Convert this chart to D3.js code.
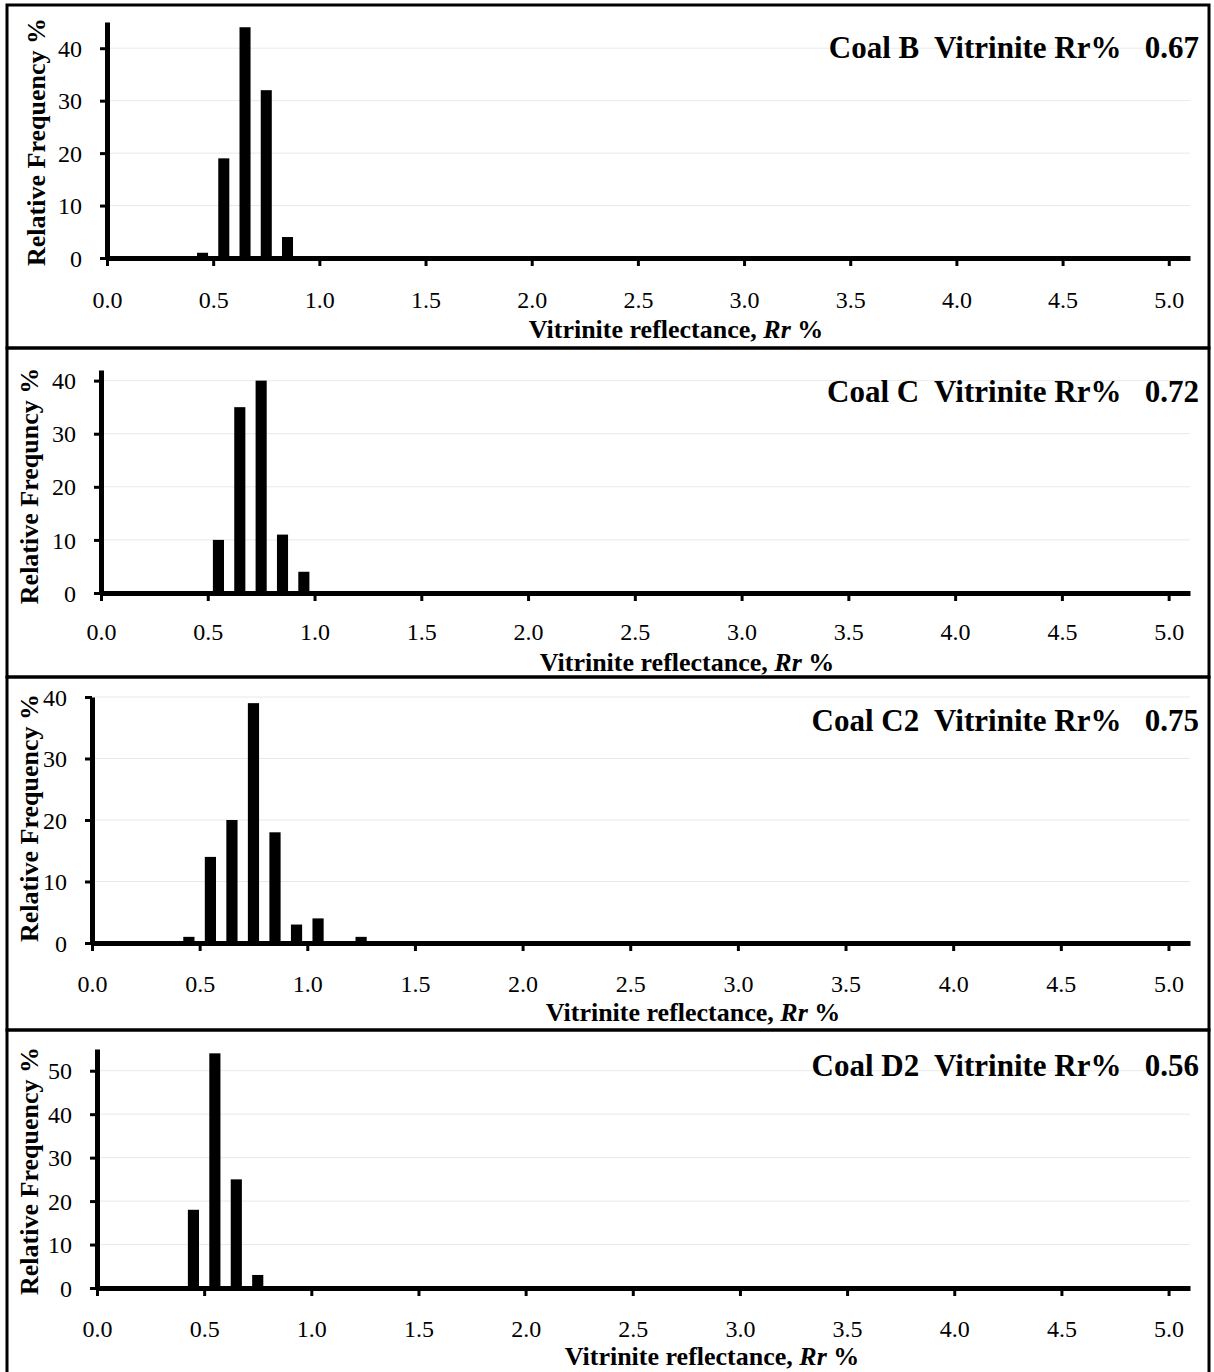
<!DOCTYPE html>
<html>
<head>
<meta charset="utf-8">
<script src="https://cdn.jsdelivr.net/npm/d3@7"></script>
<style>
  html, body { margin: 0; padding: 0; background: #fff; }
  svg { display: block; }
  text { font-family: "Liberation Serif", "Times New Roman", serif; fill: #000; }
</style>
</head>
<body>
<svg id="chart" width="1214" height="1372"></svg>
<script>
// Reflectance histograms of vitrinite for four coals (bin midpoints, Rr %)
const coalNames = ["Coal B", "Coal C", "Coal C2", "Coal D2"];
const meanRr = ["0.67", "0.72", "0.75", "0.56"];

const binsB  = [0.45, 0.55, 0.65, 0.75, 0.85];
const freqB  = [1, 19, 44, 32, 4];

const binsC  = [0.55, 0.65, 0.75, 0.85, 0.95];
const freqC  = [10, 35, 40, 11, 4];

const binsC2 = [0.45, 0.55, 0.65, 0.75, 0.85, 0.95, 1.05, 1.25];
const freqC2 = [1, 14, 20, 39, 18, 3, 4, 1];

const binsD2 = [0.45, 0.55, 0.65, 0.75];
const freqD2 = [18, 54, 25, 3];

const yMaxes = [45, 42, 40, 55];
const yTicksB  = [0, 10, 20, 30, 40];
const yTicksC  = [0, 10, 20, 30, 40];
const yTicksC2 = [0, 10, 20, 30, 40];
const yTicksD2 = [0, 10, 20, 30, 40, 50];
const xTicks = [0, 0.5, 1.0, 1.5, 2.0, 2.5, 3.0, 3.5, 4.0, 4.5, 5.0];
const xDomainMax = 5.1;
const binWidth = 0.052;

const yTitles = ["Relative Frequency %", "Relative Frequncy %", "Relative Frequency %", "Relative Frequency %"];

const panels = [
  { name: coalNames[0], mean: meanRr[0], bins: binsB,  freq: freqB,  yMax: yMaxes[0], yTicks: yTicksB,  yTitle: yTitles[0] },
  { name: coalNames[1], mean: meanRr[1], bins: binsC,  freq: freqC,  yMax: yMaxes[1], yTicks: yTicksC,  yTitle: yTitles[1] },
  { name: coalNames[2], mean: meanRr[2], bins: binsC2, freq: freqC2, yMax: yMaxes[2], yTicks: yTicksC2, yTitle: yTitles[2] },
  { name: coalNames[3], mean: meanRr[3], bins: binsD2, freq: freqD2, yMax: yMaxes[3], yTicks: yTicksD2, yTitle: yTitles[3] }
];

// Frame and plot geometry of each stacked panel
const layout = [
  { top: 5,    bottom: 348,  x0: 107, yZero: 258,  yTop: 22,   tickLabelDy: 50, yTitleX: 45, yTitleY: 142,  xTitleX: 676, xTitleY: 338,  titleY: 58 },
  { top: 348,  bottom: 677,  x0: 101, yZero: 593,  yTop: 370,  tickLabelDy: 47, yTitleX: 38, yTitleY: 486,  xTitleX: 687, xTitleY: 671,  titleY: 402 },
  { top: 677,  bottom: 1030, x0: 92,  yZero: 943,  yTop: 697,  tickLabelDy: 49, yTitleX: 38, yTitleY: 818,  xTitleX: 693, xTitleY: 1021, titleY: 731 },
  { top: 1030, bottom: 1380, x0: 97,  yZero: 1288, yTop: 1049, tickLabelDy: 49, yTitleX: 38, yTitleY: 1171, xTitleX: 712, xTitleY: 1365, titleY: 1076 }
];
const frameLeft = 7, frameRight = 1209, axisRight = 1190, titleRight = 1199;

const svg = d3.select("#chart");

panels.forEach((p, i) => {
  const L = layout[i];

  svg.append("rect")
    .attr("x", frameLeft).attr("y", L.top)
    .attr("width", frameRight - frameLeft).attr("height", L.bottom - L.top)
    .attr("fill", "none").attr("stroke", "#000").attr("stroke-width", 3);

  const x = d3.scaleLinear().domain([0, xDomainMax]).range([L.x0, axisRight]);
  const y = d3.scaleLinear().domain([0, p.yMax]).range([L.yZero, L.yTop]);

  const g = svg.append("g");

  // light horizontal gridlines
  g.append("g").selectAll("line")
    .data(p.yTicks.filter(t => t > 0))
    .join("line")
    .attr("x1", L.x0).attr("x2", axisRight)
    .attr("y1", d => y(d)).attr("y2", d => y(d))
    .attr("stroke", "#e9e9e9").attr("stroke-width", 1);

  // histogram bars
  g.append("g").selectAll("rect")
    .data(p.bins.map((b, k) => ({ b, f: p.freq[k] })))
    .join("rect")
    .attr("x", d => x(d.b - binWidth / 2))
    .attr("width", d => x(d.b + binWidth / 2) - x(d.b - binWidth / 2))
    .attr("y", d => y(d.f))
    .attr("height", d => y(0) - y(d.f))
    .attr("fill", "#000");

  // x axis
  const xAxis = g.append("g")
    .attr("transform", `translate(0,${L.yZero})`)
    .call(d3.axisBottom(x).tickValues(xTicks).tickFormat(d3.format(".1f")).tickSize(8).tickSizeOuter(0));
  xAxis.select(".domain").attr("stroke", "#000").attr("stroke-width", 5);
  xAxis.selectAll(".tick line").attr("stroke", "#000").attr("stroke-width", 3);
  xAxis.selectAll(".tick text")
    .attr("y", L.tickLabelDy).attr("dy", 0)
    .style("font-family", '"Liberation Serif", "Times New Roman", serif')
    .style("font-size", "24px").attr("fill", "#000");

  // y axis
  const yAxis = g.append("g")
    .attr("transform", `translate(${L.x0},0)`)
    .call(d3.axisLeft(y).tickValues(p.yTicks).tickFormat(d3.format("d")).tickSize(7).tickSizeOuter(0));
  yAxis.select(".domain").attr("stroke", "#000").attr("stroke-width", 5);
  yAxis.selectAll(".tick line").attr("stroke", "#000").attr("stroke-width", 3);
  yAxis.selectAll(".tick text")
    .attr("x", -25).attr("dy", "0.34em")
    .style("font-family", '"Liberation Serif", "Times New Roman", serif')
    .style("font-size", "24px").attr("fill", "#000");

  // y axis title
  svg.append("text")
    .attr("transform", `translate(${L.yTitleX},${L.yTitleY}) rotate(-90)`)
    .attr("text-anchor", "middle")
    .style("font-size", "26px").style("font-weight", "bold")
    .text(p.yTitle);

  // x axis title with italic symbol
  const xt = svg.append("text")
    .attr("x", L.xTitleX).attr("y", L.xTitleY)
    .attr("text-anchor", "middle")
    .style("font-size", "26px").style("font-weight", "bold");
  xt.append("tspan").text("Vitrinite reflectance, ");
  xt.append("tspan").style("font-style", "italic").text("Rr");
  xt.append("tspan").text(" %");

  // panel title
  svg.append("text")
    .attr("x", titleRight).attr("y", L.titleY)
    .attr("text-anchor", "end")
    .attr("xml:space", "preserve")
    .style("white-space", "pre")
    .style("font-size", "31px").style("font-weight", "bold")
    .text(`${p.name}  Vitrinite Rr%   ${p.mean}`);
});
</script>
</body>
</html>
